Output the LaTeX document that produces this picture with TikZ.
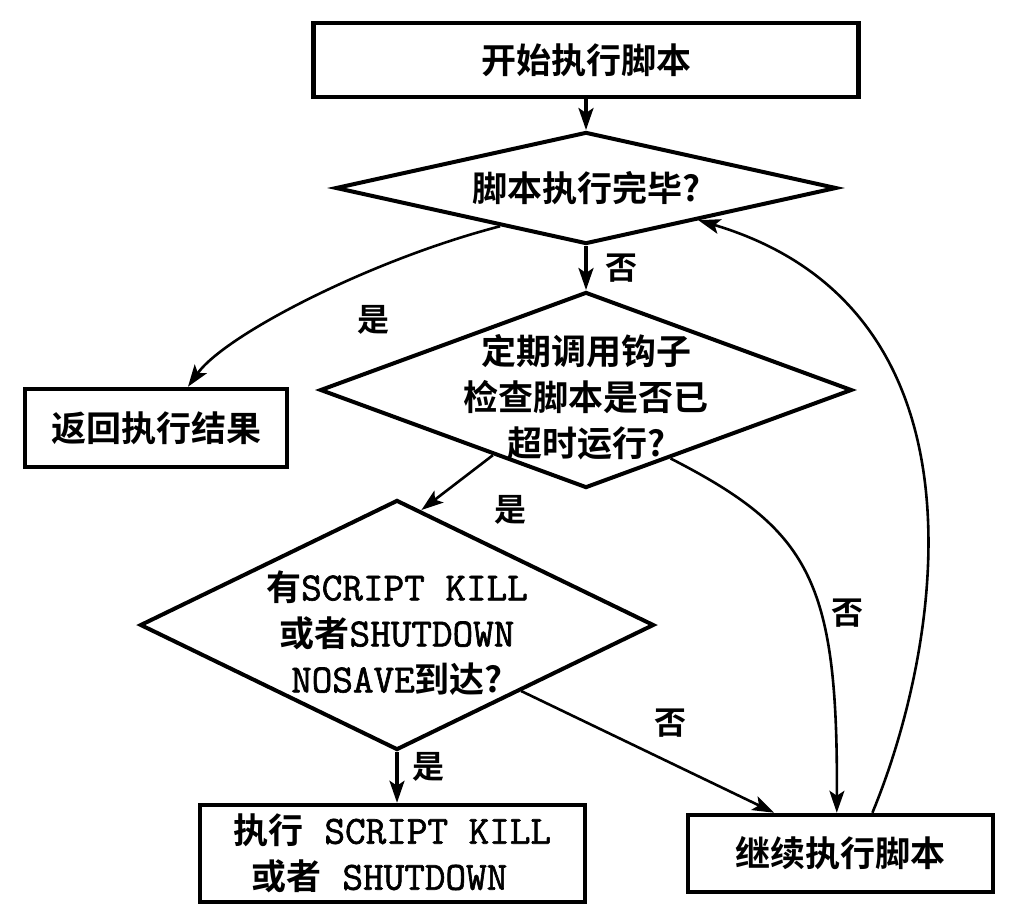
\documentclass[tikz,border=0pt]{standalone}
\usepackage{fontspec}
\newfontfamily\cjkb{Noto Sans CJK SC Bold}
\newfontfamily\monob{Latin Modern Mono}[FakeBold=1.6]
\usetikzlibrary{shapes.geometric,arrows.meta,calc}
\newcommand\mtxt[1]{{\monob\fontsize{40}{46}\selectfont #1}}
\begin{document}
\begin{tikzpicture}[x=1pt,y=-1pt,
  box/.style={draw,line width=4.5pt,inner sep=0pt},
  dia/.style={draw,diamond,line width=4pt,inner sep=0pt},
  txt/.style={font=\cjkb\fontsize{35}{46}\selectfont,align=center,inner sep=0pt},
  lbl/.style={font=\cjkb\fontsize{32}{36}\selectfont,inner sep=0pt},
  conn/.style={line width=2.6pt,-{Stealth[length=22pt,width=15pt,inset=5pt]}},
  vconn/.style={conn,line width=3.2pt},
]
\useasboundingbox (0,0) rectangle (1027,923);

% boxes
\node[box,txt,minimum width=545pt,minimum height=74pt] (start) at (586,60) {开始执行脚本};
\node[box,txt,minimum width=262pt,minimum height=78pt] (ret) at (156,428) {返回执行结果};
\node[box,txt,minimum width=385pt,minimum height=97pt,align=left] (exec) at (392.5,853.5)
  {执行\mtxt{~SCRIPT KILL}\\\hspace*{18pt}或者\mtxt{~SHUTDOWN}};
\node[box,txt,minimum width=305pt,minimum height=77pt] (cont) at (840.5,853.5) {继续执行脚本};

% decisions
\node[dia,minimum width=501pt,minimum height=112pt] (d1) at (586,188) {};
\node[txt] (t1) at (586,188) {脚本执行完毕?};
\node[dia,minimum width=532pt,minimum height=196pt] (d2) at (586,390) {};
\node[txt] (t2) at (586,397) {定期调用钩子\\检查脚本是否已\\超时运行?};
\node[dia,minimum width=514pt,minimum height=250pt] (d3) at (397,625) {};
\node[txt] (t3) at (397,633) {有\mtxt{SCRIPT KILL}\\或者\mtxt{SHUTDOWN}\\\mtxt{NOSAVE}到达?};

% connectors
\draw[vconn] (start.south) -- (d1.north);
\draw[vconn] (d1.south) -- (d2.north);
\draw[conn] (d1.204) .. controls (370,260) and (225,335) .. ($(ret.north west)!0.62!(ret.north east)$);
\draw[conn] (d2.215) -- (d3.78);
\draw[vconn] (d3.south) -- (d3.south |- exec.north);
\draw[conn] (d3.-28) -- ($(cont.north west)!0.286!(cont.north east)$);
\draw[conn] (d2.-39) .. controls (810,530) and (838,580) .. ($(cont.north west)!0.488!(cont.north east)$);
\draw[conn] ($(cont.north west)!0.603!(cont.north east)$) .. controls (940,650) and (1000,310) .. (d1.-16);

% branch labels
\node[lbl] (l1) at (621,268) {否};
\node[lbl] (l2) at (373,320) {是};
\node[lbl] (l3) at (510,510) {是};
\node[lbl] (l4) at (847,613) {否};
\node[lbl] (l5) at (670,723) {否};
\node[lbl] (l6) at (428,767) {是};
\end{tikzpicture}
\end{document}
